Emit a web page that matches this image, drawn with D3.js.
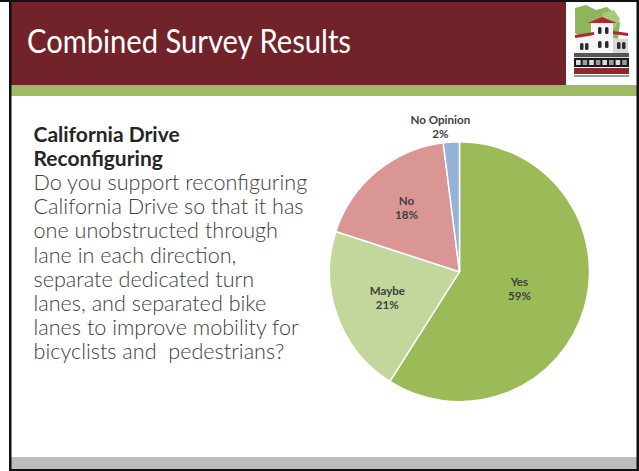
<!DOCTYPE html>
<html>
<head>
<meta charset="utf-8">
<script src="https://cdn.jsdelivr.net/npm/d3@7"></script>
<style>
  html, body { margin: 0; padding: 0; background: #fff; overflow: hidden; }
  svg { display: block; }
</style>
</head>
<body>
<svg id="slide" width="639" height="471"></svg>
<script>
// Survey answers and their shares (percent)
const categories = ["Yes", "Maybe", "No", "No Opinion"];
const shares = [59, 21, 18, 2];
const sliceColors = ["#9BBB59", "#C3D69B", "#D99694", "#95B3D7"];

// Slide text
const slideTitle = "Combined Survey Results";
const headingLines = ["California Drive", "Reconfiguring"];
const questionLines = [
  "Do you support reconfiguring",
  "California Drive so that it has",
  "one unobstructed through",
  "lane in each direction,",
  "separate dedicated turn",
  "lanes, and separated bike",
  "lanes to improve mobility for",
  "bicyclists and  pedestrians?"
];

const svg = d3.select("#slide");
const W = 639, H = 471;

// ---- slide frame ----
svg.append("rect").attr("x", 0).attr("y", 0).attr("width", W).attr("height", H).attr("fill", "#fff");
// footer band
svg.append("rect").attr("x", 11).attr("y", 457).attr("width", 626).attr("height", 12).attr("fill", "#BDBDBD");
// header band
svg.append("rect").attr("x", 11).attr("y", 2).attr("width", 555).attr("height", 83).attr("fill", "#72232A");
// green rule under header
svg.append("rect").attr("x", 11).attr("y", 85).attr("width", 626).attr("height", 11).attr("fill", "#9FBB62");
// black outline
svg.append("rect").attr("x", 0).attr("y", 0).attr("width", W).attr("height", 2).attr("fill", "#111");
svg.append("rect").attr("x", 9).attr("y", 0).attr("width", 2.5).attr("height", H).attr("fill", "#111");
svg.append("rect").attr("x", 636.5).attr("y", 0).attr("width", 2.5).attr("height", H).attr("fill", "#111");
svg.append("rect").attr("x", 9).attr("y", 469).attr("width", 630).attr("height", 2).attr("fill", "#111");

// ---- logo (stylised depot building) ----
const logo = svg.append("g").attr("transform", "translate(574,5)");
logo.append("rect").attr("width", 55).attr("height", 74).attr("fill", "#fff");
logo.append("path").attr("d", "M1,3 L12,0 L22,5 L33,2 L40,8 L46,18 L44,34 L28,30 L10,34 L1,28 Z").attr("fill", "#8DB55A");
logo.append("path").attr("d", "M28,8 L40,5 L46,14 L40,24 L30,19 Z").attr("fill", "#A9C97A");
logo.append("path").attr("d", "M2,30 L20,28 L36,33 L54,34 L54,54 L2,54 Z").attr("fill", "#D8D8D8");
logo.append("path").attr("d", "M2,33 L22,31 L22,52 L2,52 Z").attr("fill", "#F4F4F4");
logo.append("rect").attr("x", 17).attr("y", 17).attr("width", 22).attr("height", 35).attr("fill", "#F6F6F6");
logo.append("path").attr("d", "M14,18 L28,12 L43,18 Z").attr("fill", "#B3262E");
logo.append("path").attr("d", "M1,30 L20,27 L20,30 L1,33 Z").attr("fill", "#B3262E");
logo.append("path").attr("d", "M39,26 L54,28 L54,31 L39,29 Z").attr("fill", "#B3262E");
[[6,38],[11,38],[24,22],[31,22],[24,36],[31,36],[43,37],[48,37]].forEach(([x, y]) => {
  logo.append("rect").attr("x", x).attr("y", y).attr("width", 3.5).attr("height", 7).attr("rx", 1.5).attr("fill", "#2B2B2B");
});
logo.append("rect").attr("x", 0).attr("y", 48).attr("width", 55).attr("height", 4).attr("fill", "#555");
logo.append("rect").attr("x", 0).attr("y", 53).attr("width", 55).attr("height", 9).attr("fill", "#1A1A1A");
d3.range(8).forEach(i => {
  logo.append("rect").attr("x", 2 + i * 6.6).attr("y", 55).attr("width", 4.6).attr("height", 5).attr("fill", i % 2 ? "#9A9A9A" : "#DADADA");
});
logo.append("rect").attr("x", 0).attr("y", 63).attr("width", 55).attr("height", 6).attr("fill", "#8E2A2E");
logo.append("rect").attr("x", 0).attr("y", 70).attr("width", 55).attr("height", 2).attr("fill", "#9A9A9A");

// ---- title ----
svg.append("text")
  .attr("x", 27).attr("y", 52.5)
  .attr("font-family", "Lato, 'Open Sans', sans-serif")
  .attr("font-weight", 400)
  .attr("font-size", 33.5)
  .attr("textLength", 324)
  .attr("lengthAdjust", "spacingAndGlyphs")
  .attr("fill", "#fff")
  .text(slideTitle);

// ---- question text ----
const textX = 33.5;
svg.append("g").selectAll("text").data(headingLines).join("text")
  .attr("x", textX).attr("y", (d, i) => 142 + i * 24.2)
  .attr("font-family", "Lato, sans-serif")
  .attr("font-weight", 700)
  .attr("font-size", 21)
  .attr("fill", "#262626")
  .text(d => d);

svg.append("g").selectAll("text").data(questionLines).join("text")
  .attr("x", textX).attr("y", (d, i) => 190 + i * 24.2)
  .attr("font-family", "Lato, sans-serif")
  .attr("font-weight", 300)
  .attr("font-size", 21.6)
  .attr("fill", "#404040")
  .style("white-space", "pre")
  .text(d => d);

// ---- pie ----
const cx = 459.5, cy = 271.7, R = 130;
const data = categories.map((c, i) => ({ category: c, value: shares[i] }));
const color = d3.scaleOrdinal(categories, sliceColors);
const pie = d3.pie().sort(null).value(d => d.value).startAngle(0).endAngle(2 * Math.PI);
const arc = d3.arc().innerRadius(0).outerRadius(R);
const arcs = pie(data);

const chart = svg.append("g").attr("transform", `translate(${cx},${cy})`);
chart.selectAll("path.slice").data(arcs).join("path")
  .attr("class", "slice")
  .attr("d", arc)
  .attr("fill", d => color(d.data.category))
  .attr("stroke", "#fff")
  .attr("stroke-width", 1.5)
  .attr("stroke-linejoin", "round");

// label ring radius (fraction of R) and sideways nudge per slice
const labelLayout = {
  "Yes": { k: 0.48, dx: 0 },
  "Maybe": { k: 0.59, dx: 0 },
  "No": { k: 0.64, dx: 0 },
  "No Opinion": { k: 1.115, dx: -10 }
};

const labels = chart.selectAll("text.label").data(arcs).join("text")
  .attr("class", "label")
  .attr("text-anchor", "middle")
  .attr("font-family", "Lato, 'Open Sans', sans-serif")
  .attr("font-weight", 700)
  .attr("font-size", 11.6)
  .attr("fill", "#404040")
  .attr("transform", d => {
    const L = labelLayout[d.data.category];
    const r = R * L.k;
    const [x, y] = d3.arc().innerRadius(r).outerRadius(r).centroid(d);
    return `translate(${x + L.dx},${y})`;
  });
labels.append("tspan").attr("x", 0).attr("y", -3).text(d => d.data.category);
labels.append("tspan").attr("x", 0).attr("y", 11).text(d => `${d.data.value}%`);
</script>
</body>
</html>
